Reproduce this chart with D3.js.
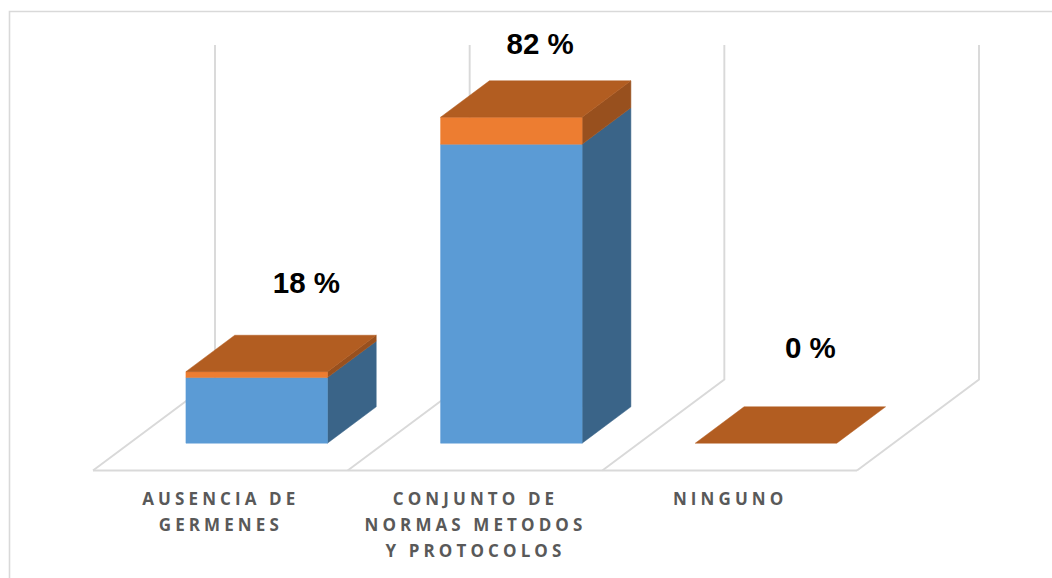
<!DOCTYPE html>
<html><head><meta charset="utf-8">
<script src="https://cdn.jsdelivr.net/npm/d3@7"></script>
<style>html,body{margin:0;padding:0;background:#fff;overflow:hidden}svg{display:block}</style>
</head><body><svg id="c" width="1052" height="578"></svg>
<script>
const categories = ["AUSENCIA DE|GERMENES", "CONJUNTO DE|NORMAS METODOS|Y PROTOCOLOS", "NINGUNO"];
const blueValues = [16.5, 75.2, 0];
const orangeValues = [1.5, 6.8, 0];
const labels = ["18 %", "82 %", "0 %"];
const labelDx = [1, -20, -4.5];
const labelBaseline = [293, 54, 358];

const svg = d3.select("#c");
const depth = {x: 122, y: -91};
const floorY = 470.5;
const x = d3.scaleBand().domain(d3.range(categories.length)).range([93, 857]).paddingInner(0).paddingOuter(0);
const y = d3.scaleLinear().domain([0, 82]).range([0, 326]);
const barW = 141.5;
const wallTop = 45;
const grid = "#d9d9d9";

// project a point: front-plane x, height h (px), depth fraction d
const P = (px, h, d) => [px + depth.x * d, floorY - h + depth.y * d];
const poly = (pts, fill) => svg.append("polygon")
  .attr("points", pts.map(p => p.join(",")).join(" "))
  .attr("fill", fill).attr("stroke", fill).attr("stroke-width", 0.5);

// frame
svg.append("path").attr("d", "M9.5,578V11.5H1052").attr("fill", "none").attr("stroke", grid).attr("stroke-width", 1.6);

// floor and walls
const edges = [...x.domain().map(i => x(i)), x.range()[1]];
svg.append("path").attr("d", `M${x.range()[0]},${floorY}H${x.range()[1]}`).attr("stroke", grid).attr("stroke-width", 1.9).attr("fill", "none");
edges.forEach(e => {
  const b = P(e, 0, 1);
  svg.append("path")
    .attr("d", `M${e},${floorY}L${b[0]},${b[1]}V${wallTop}`)
    .attr("fill", "none").attr("stroke", grid).attr("stroke-width", 1.9);
});

// bars
const d0 = 0.3, d1 = 0.7;
const colors = [
  {front: "#5b9bd5", side: "#3a6488"},
  {front: "#ed7d31", side: "#98501e"}
];
const topColor = "#b25d21";
categories.forEach((c, i) => {
  const left = x(i) + x.bandwidth() / 2 - 71;
  const right = left + barW;
  const h0 = y(0), h1 = y(blueValues[i]), h2 = y(blueValues[i] + orangeValues[i]);
  [[h0, h1, 0], [h1, h2, 1]].forEach(([a, b, k]) => {
    if (b <= a) return;
    poly([P(right, a, d0), P(right, a, d1), P(right, b, d1), P(right, b, d0)], colors[k].side);
    poly([P(left, a, d0), P(right, a, d0), P(right, b, d0), P(left, b, d0)], colors[k].front);
  });
  poly([P(left, h2, d0), P(right, h2, d0), P(right, h2, d1), P(left, h2, d1)], topColor);

  // value label
  const cx = (P(left, h2, d1)[0] + P(right, h2, d1)[0]) / 2 + labelDx[i];
  svg.append("text").attr("x", cx).attr("y", labelBaseline[i])
    .attr("text-anchor", "middle")
    .attr("font-family", "'Liberation Sans', Arial, sans-serif")
    .attr("font-weight", 700).attr("font-size", 29.5).attr("fill", "#000").text(labels[i]);

  // category label
  c.split("|").forEach((line, j) => {
    svg.append("text")
      .attr("x", x(i) + x.bandwidth() / 2 + 0.5).attr("y", 505 + j * 26)
      .attr("text-anchor", "middle")
      .attr("font-family", "'Open Sans', Lato, sans-serif")
      .attr("font-weight", 700).attr("font-size", 17)
      .attr("letter-spacing", 4.1).attr("fill", "#595959").text(line);
  });
});
</script></body></html>
